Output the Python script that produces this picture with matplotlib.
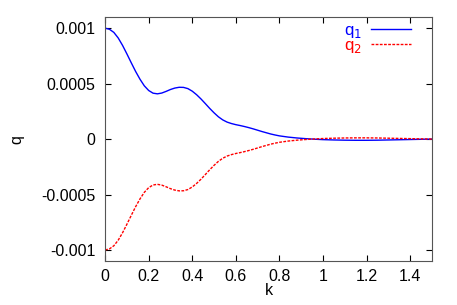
import matplotlib
matplotlib.use('Agg')
import matplotlib.pyplot as plt

plt.rcParams['font.family'] = ['Liberation Sans', 'DejaVu Sans']

# values
k = [0.00, 0.02, 0.04, 0.06, 0.08, 0.10, 0.12, 0.14, 0.16, 0.18, 0.20, 0.22,
     0.24, 0.26, 0.28, 0.30, 0.32, 0.34, 0.36, 0.38, 0.40, 0.42, 0.44, 0.46,
     0.48, 0.50, 0.52, 0.54, 0.56, 0.58, 0.60, 0.62, 0.64, 0.66, 0.68, 0.70,
     0.72, 0.74, 0.76, 0.78, 0.80, 0.84, 0.88, 0.92, 0.96, 1.00, 1.05, 1.10,
     1.15, 1.20, 1.25, 1.30, 1.35, 1.40, 1.45, 1.50]
q1 = [0.001000, 0.000990, 0.000962, 0.000912, 0.000845, 0.000768, 0.000688, 0.000610,
      0.000540, 0.000480, 0.000438, 0.000414, 0.000408, 0.000415, 0.000430, 0.000447,
      0.000460, 0.000467, 0.000466, 0.000455, 0.000432, 0.000400, 0.000362, 0.000320,
      0.000277, 0.000237, 0.000201, 0.000173, 0.000153, 0.000140, 0.000130, 0.000122,
      0.000113, 0.000103, 0.000092, 0.000080, 0.000068, 0.000057, 0.000046, 0.000037,
      0.000029, 0.000018, 0.000010, 0.000004, -0.000001, -0.000005, -0.000008, -0.000010,
      -0.000011, -0.000011, -0.000010, -0.000008, -0.000006, -0.000004, -0.000002, 0.000000]
q2 = [-0.001000, -0.000990, -0.000962, -0.000912, -0.000845, -0.000768, -0.000688, -0.000610,
      -0.000540, -0.000480, -0.000438, -0.000414, -0.000408, -0.000415, -0.000430, -0.000447,
      -0.000460, -0.000467, -0.000466, -0.000455, -0.000432, -0.000400, -0.000362, -0.000320,
      -0.000277, -0.000237, -0.000201, -0.000173, -0.000153, -0.000140, -0.000130, -0.000122,
      -0.000113, -0.000103, -0.000092, -0.000080, -0.000068, -0.000057, -0.000046, -0.000037,
      -0.000029, -0.000018, -0.000010, -0.000004, 0.000001, 0.000005, 0.000008, 0.000010,
      0.000011, 0.000011, 0.000010, 0.000008, 0.000006, 0.000004, 0.000002, 0.000000]

xticks = [0, 0.2, 0.4, 0.6, 0.8, 1, 1.2, 1.4]
xtick_labels = ['0', '0.2', '0.4', '0.6', '0.8', '1', '1.2', '1.4']
yticks = [-0.001, -0.0005, 0, 0.0005, 0.001]
ytick_labels = ['-0.001', '-0.0005', '0', '0.0005', '0.001']

fig = plt.figure(figsize=(4.57, 3.05), dpi=100)
ax = fig.add_axes([0.230, 0.144, 0.715, 0.800])

ax.plot(k, q1, color='#0000ff', lw=1.0, label='q$_1$')
ax.plot(k, q2, color='#ff0000', lw=1.0, dashes=(2, 1), label='q$_2$')

ax.set_xlim(0, 1.5)
ax.set_ylim(-0.0011, 0.0011)
ax.set_xticks(xticks)
ax.set_xticklabels(xtick_labels)
ax.set_yticks(yticks)
ax.set_yticklabels(ytick_labels)
ax.tick_params(axis='both', direction='in', top=True, right=True, length=4, labelsize=11.5)
ax.tick_params(axis='x', pad=6)
ax.tick_params(axis='y', pad=7)
for s in ax.spines.values():
    s.set_linewidth(0.8)
    s.set_color('#555555')

ax.set_xlabel('k', fontsize=11.5, labelpad=-1)
ax.set_ylabel('q', fontsize=11.5, labelpad=12)

# gnuplot-style key: label first, then sample
leg = ax.legend(loc='upper right', bbox_to_anchor=(0.933, 0.974),
                bbox_transform=fig.transFigure, frameon=False, markerfirst=False,
                fontsize=12, handlelength=2.4, labelspacing=-0.12,
                handletextpad=0.6, labelcolor='linecolor')

fig.savefig('out.png', dpi=100)
